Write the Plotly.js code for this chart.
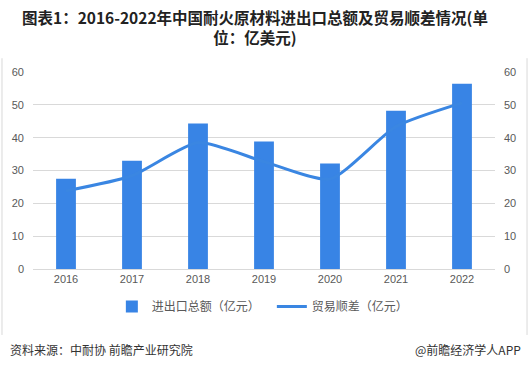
<!DOCTYPE html>
<html><head><meta charset="utf-8">
<script src="https://cdn.plot.ly/plotly-3.0.1.min.js"></script>
<style>html,body{margin:0;padding:0;background:#fff;}#chart{width:529px;height:369px;}</style>
</head><body><div id="chart"></div>
<script>
const years = ['2016','2017','2018','2019','2020','2021','2022'];
const totalTrade = [27.5, 33.0, 44.3, 38.8, 32.1, 48.2, 56.4];
const tradeSurplus = [23.8, 28.4, 38.5, 32.7, 27.4, 43.4, 50.6];
const tickVals = [0,10,20,30,40,50,60];
const blue = '#3884e5';
const tickFont = {family:'"Liberation Sans", Arial, sans-serif', size:11, color:'#595959'};
const traces = [
  {type:'bar', x:years, y:totalTrade, name:'进出口总额（亿元）', marker:{color:blue}, width:0.3, yaxis:'y'},
  {type:'scatter', mode:'lines', x:years, y:tradeSurplus, name:'贸易顺差（亿元）', line:{color:'#3a86e2', width:3, shape:'spline', smoothing:0.6}, yaxis:'y2'}
];
const layout = {
  width:529, height:369,
  margin:{l:33, r:34, t:72, b:100, autoexpand:false},
  paper_bgcolor:'#fff', plot_bgcolor:'#fff',
  xaxis:{type:'category', tickfont:tickFont, showgrid:false, showline:true, linecolor:'#d9d9d9', ticks:'', zeroline:false},
  yaxis:{range:[0,60], tickvals:tickVals, tickfont:tickFont, showgrid:true, gridcolor:'#d9d9d9', zeroline:false, showline:false, ticks:'', ticklabelstandoff:8},
  yaxis2:{range:[0,60], tickvals:tickVals, tickfont:tickFont, overlaying:'y', side:'right', showgrid:false, zeroline:false, showline:false, ticks:'', ticklabelstandoff:8},
  showlegend:true,
  legend:{orientation:'h', x:0.517, xanchor:'center', y:-0.19, yanchor:'middle', font:{family:'"Noto Sans CJK SC", sans-serif', size:12, color:'#595959'}, itemwidth:30, tracegroupgap:0, entrywidth:115},
  shapes:[
    {type:'line', xref:'paper', yref:'paper', x0:-0.0671, x1:-0.0671, y0:-0.335, y1:1.07, line:{color:'#d9d9d9', width:1}},
    {type:'line', xref:'paper', yref:'paper', x0:1.0693, x1:1.0693, y0:-0.335, y1:1.07, line:{color:'#d9d9d9', width:1}}
  ],
  annotations:[
    {text:'<b>图表1：2016-2022年中国耐火原材料进出口总额及贸易顺差情况(单<br>位：亿美元)</b>', xref:'paper', yref:'paper', x:0.48, xanchor:'center', y:1.345, yanchor:'top', showarrow:false, align:'center', font:{family:'"Noto Sans CJK SC", sans-serif', size:15.5, color:'#222'}},
    {text:'资料来源：中耐协 前瞻产业研究院', xref:'paper', yref:'paper', x:-0.054, xanchor:'left', y:-0.41, yanchor:'middle', showarrow:false, font:{family:'"Noto Sans CJK SC", sans-serif', size:12, color:'#333'}},
    {text:'@前瞻经济学人APP', xref:'paper', yref:'paper', x:1.06, xanchor:'right', y:-0.41, yanchor:'middle', showarrow:false, font:{family:'"Noto Sans CJK SC", sans-serif', size:12, color:'#333'}}
  ]
};
Plotly.newPlot('chart', traces, layout, {displayModeBar:false, responsive:false});
</script></body></html>
